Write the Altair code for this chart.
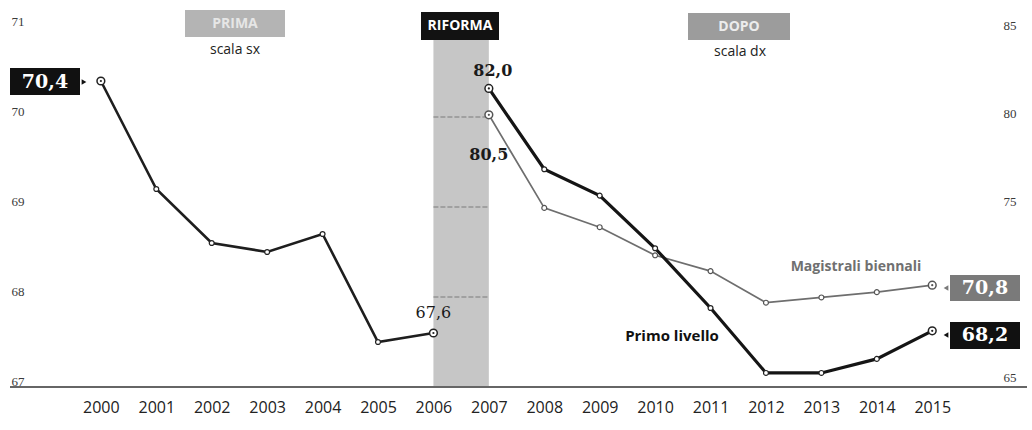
import altair as alt
import pandas as pd

# ---- data ----
years_prima = [2000, 2001, 2002, 2003, 2004, 2005, 2006]
vals_prima = [70.4, 69.2, 68.6, 68.5, 68.7, 67.5, 67.6]

years_dopo = [2007, 2008, 2009, 2010, 2011, 2012, 2013, 2014, 2015]
vals_primo = [82.0, 77.4, 75.9, 72.9, 69.5, 65.8, 65.8, 66.6, 68.2]
vals_magistrali = [80.5, 75.2, 74.1, 72.5, 71.6, 69.8, 70.1, 70.4, 70.8]

x_ticks = list(range(2000, 2016))
left_ticks = [67, 68, 69, 70, 71]
right_ticks = [65, 75, 80, 85]  # the "70" label is hidden behind the 70,8 box in the reference
band_years = [2006, 2007]
band_grid = [68, 69, 70]


def fmt(v):
    return f"{v:.1f}".replace(".", ",")


df_prima = pd.DataFrame({"anno": years_prima, "valore": vals_prima})
df_primo = pd.DataFrame({"anno": years_dopo, "valore": vals_primo})
df_mag = pd.DataFrame({"anno": years_dopo, "valore": vals_magistrali})

xs = alt.Scale(domain=[1998.18, 2016.8], nice=False, zero=False)
ysl = alt.Scale(domain=[67, 71], nice=False, zero=False)
ysr = alt.Scale(domain=[65, 85.5], nice=False, zero=False)

X_AXIS = alt.Axis(values=x_ticks, format="d", labelFont="Open Sans", labelFontSize=16,
                  labelColor="#222", labelPadding=12, ticks=False, domain=False,
                  grid=False, title=None, labelFlush=False)
L_AXIS = alt.Axis(orient="left", values=left_ticks, labelFont="Liberation Serif",
                  labelFontSize=13, labelColor="#3a3a3a", labelAlign="left",
                  labelBaseline="alphabetic", labelOffset=-2, labelPadding=-11,
                  ticks=False, tickSize=0, domain=False, grid=False, title=None)
R_AXIS = alt.Axis(orient="right", values=right_ticks, labelFont="Liberation Serif",
                  labelFontSize=13, labelColor="#3a3a3a", labelAlign="right",
                  labelBaseline="alphabetic", labelOffset=-6, labelPadding=-16,
                  ticks=False, tickSize=0, domain=False, grid=False, title=None)


def xq(field="anno:Q"):
    return alt.X(field, scale=xs, axis=X_AXIS)


one = pd.DataFrame({"t": [0]})

# band RIFORMA
band = alt.Chart(pd.DataFrame({"a": [band_years[0]], "b": [band_years[1]]})).mark_rect(
    color="#c6c6c6").encode(
    x=xq("a:Q"), x2="b:Q",
    y=alt.value(13), y2=alt.value(360))

band_lines = alt.Chart(pd.DataFrame({"v": band_grid, "a": band_years[0], "b": band_years[1]})).mark_rule(
    color="#7a7a7a", strokeDash=[5, 2], strokeWidth=1).encode(
    x=xq("a:Q"), x2="b:Q",
    y=alt.Y("v:Q", scale=ysl, axis=None))

baseline = alt.Chart(one).mark_rule(color="#666", strokeWidth=1.8).encode(
    x=alt.value(10), x2=alt.value(1027), y=alt.value(360))

# lines
line_prima = alt.Chart(df_prima).mark_line(color="#1e1e1e", strokeWidth=2.6).encode(
    x=xq(), y=alt.Y("valore:Q", scale=ysl, axis=L_AXIS))
line_mag = alt.Chart(df_mag).mark_line(color="#6e6e6e", strokeWidth=1.7).encode(
    x=xq(), y=alt.Y("valore:Q", scale=ysr, axis=R_AXIS))
line_primo = alt.Chart(df_primo).mark_line(color="#151515", strokeWidth=3.2).encode(
    x=xq(), y=alt.Y("valore:Q", scale=ysr, axis=None))


def points(df, scale, color, ends):
    mid = df[~df["anno"].isin(ends)]
    end = df[df["anno"].isin(ends)]
    p = alt.Chart(mid).mark_circle(size=24, fill="white", stroke=color, strokeWidth=1.2, opacity=1).encode(
        x=xq(), y=alt.Y("valore:Q", scale=scale, axis=None))
    r = alt.Chart(end).mark_circle(size=60, fill="white", stroke=color, strokeWidth=1.5, opacity=1).encode(
        x=xq(), y=alt.Y("valore:Q", scale=scale, axis=None))
    d = alt.Chart(end).mark_circle(size=5, color=color, opacity=1).encode(
        x=xq(), y=alt.Y("valore:Q", scale=scale, axis=None))
    return [p, r, d]


pts = (points(df_prima, ysl, "#222", [2000, 2006])
       + points(df_mag, ysr, "#555", [2007, 2015])
       + points(df_primo, ysr, "#222", [2007, 2015]))


def box(x1, x2, y1, y2, color):
    return alt.Chart(one).mark_rect(color=color).encode(
        x=alt.value(x1), x2=alt.value(x2), y=alt.value(y1), y2=alt.value(y2))


def label(text, x, y, **kw):
    return alt.Chart(pd.DataFrame({"t": [text]})).mark_text(**kw).encode(
        x=alt.value(x), y=alt.value(y), text="t:N")


def pointer(x, y, shape, color):
    return alt.Chart(one).mark_point(shape=shape, filled=True, size=30, color=color, opacity=1).encode(
        x=alt.value(x), y=alt.value(y))


def vlabel(df, year, scale, dx, dy, bold):
    row = df[df["anno"] == year].copy()
    row["t"] = row["valore"].map(fmt)
    return alt.Chart(row).mark_text(font="DejaVu Serif", fontSize=16,
                                    fontWeight="bold" if bold else "normal",
                                    color="#1a1a1a", dx=dx, dy=dy).encode(
        x=xq(), y=alt.Y("valore:Q", scale=scale, axis=None), text="t:N")


annot = [
    # header boxes
    box(185, 285, -17, 10, "#b4b4b4"),
    label("PRIMA", 235, -3, font="Open Sans", fontSize=14, fontWeight="bold", color="#e6e6e6"),
    label("scala sx", 235, 23, font="Open Sans", fontSize=14, color="#222"),
    box(421, 499, -15, 13, "#121212"),
    label("RIFORMA", 460, -1, font="Open Sans", fontSize=14, fontWeight="bold", color="white"),
    box(688, 790, -14, 13, "#9c9c9c"),
    label("DOPO", 739, 0, font="Open Sans", fontSize=14, fontWeight="bold", color="#ececec"),
    label("scala dx", 740, 25, font="Open Sans", fontSize=14, color="#222"),
    # value boxes
    box(10, 80, 41, 68, "#111"),
    pointer(84, 55, "triangle-right", "#111"),
    label(fmt(vals_prima[0]), 45, 55, font="DejaVu Serif", fontSize=19, fontWeight="bold", color="white",
          baseline="middle"),
    box(950, 1020, 248, 274, "#7a7a7a"),
    pointer(946, 261, "triangle-left", "#7a7a7a"),
    label(fmt(vals_magistrali[-1]), 985, 261, font="DejaVu Serif", fontSize=19, fontWeight="bold",
          color="white", baseline="middle"),
    box(950, 1020, 295, 322, "#111"),
    pointer(946, 308, "triangle-left", "#111"),
    label(fmt(vals_primo[-1]), 985, 308, font="DejaVu Serif", fontSize=19, fontWeight="bold",
          color="white", baseline="middle"),
    # series names
    label("Magistrali biennali", 856, 240, font="Open Sans", fontSize=14, fontWeight="bold", color="#707070"),
    label("Primo livello", 672, 309, font="Open Sans", fontSize=15, fontWeight="bold", color="#111"),
    # point value labels
    vlabel(df_prima, 2006, ysl, 0, -20, False),
    vlabel(df_primo, 2007, ysr, 4, -17, True),
    vlabel(df_mag, 2007, ysr, 0, 40, True),
]

chart = alt.layer(
    band, band_lines, baseline, line_prima, line_mag, line_primo, *pts, *annot
).resolve_scale(y="independent").properties(
    width=1032, height=360,
    autosize=alt.AutoSizeParams(type="none"),
    padding={"left": 0, "top": 27, "right": 0, "bottom": 43},
    background="white",
).configure_view(stroke=None)

chart.save("out.html", embed_options={"renderer": "svg", "actions": False})
